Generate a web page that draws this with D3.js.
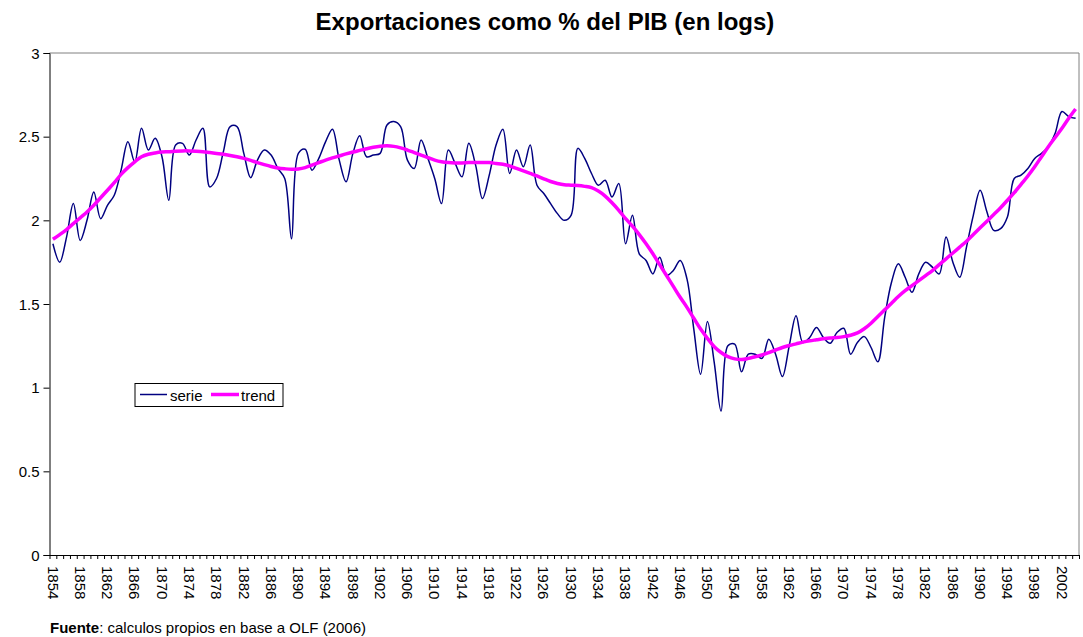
<!DOCTYPE html>
<html>
<head>
<meta charset="utf-8">
<script src="https://cdn.jsdelivr.net/npm/d3@7/dist/d3.min.js"></script>
<style>
  html, body { margin: 0; padding: 0; background: #fff; }
  svg { display: block; font-family: Arial, "Liberation Sans", sans-serif; }
</style>
</head>
<body>
<svg id="chart" width="1083" height="637"></svg>
<script>
// one value per year, 1854..2004
const firstYear = 1854;
const serie = [
  1.86, 1.75, 1.90, 2.10, 1.88, 2.00, 2.17, 2.01, 2.09, 2.15,   // 1854-1863
  2.30, 2.47, 2.35, 2.55, 2.42, 2.49, 2.38, 2.12, 2.45, 2.46,   // 1864-1873
  2.39, 2.48, 2.55, 2.20, 2.25, 2.41, 2.56, 2.56, 2.40, 2.255,  // 1874-1883
  2.36, 2.42, 2.39, 2.31, 2.25, 1.89, 2.40, 2.425, 2.30, 2.37,  // 1884-1893
  2.47, 2.545, 2.36, 2.23, 2.40, 2.505, 2.38, 2.39, 2.40, 2.57, // 1894-1903
  2.59, 2.56, 2.36, 2.31, 2.48, 2.37, 2.25, 2.10, 2.42, 2.34,   // 1904-1913
  2.26, 2.46, 2.33, 2.13, 2.27, 2.45, 2.545, 2.28, 2.42, 2.32,  // 1914-1923
  2.45, 2.21, 2.16, 2.10, 2.04, 2.00, 2.03, 2.43, 2.37, 2.28,   // 1924-1933
  2.21, 2.24, 2.14, 2.22, 1.86, 2.03, 1.80, 1.76, 1.68, 1.78,   // 1934-1943
  1.67, 1.70, 1.76, 1.65, 1.35, 1.08, 1.395, 1.15, 0.86, 1.25,  // 1944-1953
  1.26, 1.095, 1.20, 1.20, 1.175, 1.29, 1.20, 1.066, 1.25, 1.43, // 1954-1963
  1.27, 1.30, 1.36, 1.30, 1.265, 1.33, 1.355, 1.20, 1.27, 1.305, // 1964-1973
  1.24, 1.155, 1.42, 1.63, 1.74, 1.66, 1.57, 1.68, 1.75, 1.72,  // 1974-1983
  1.68, 1.90, 1.75, 1.66, 1.84, 2.03, 2.18, 2.05, 1.94, 1.95,   // 1984-1993
  2.02, 2.25, 2.27, 2.31, 2.37, 2.40, 2.44, 2.52, 2.65, 2.62,   // 1994-2003
  2.61                                                          // 2004
];
const trend = [
  1.887, 1.915, 1.945, 1.98, 2.015, 2.05, 2.09, 2.135, 2.18, 2.225,
  2.275, 2.315, 2.35, 2.38, 2.395, 2.403, 2.408, 2.41, 2.413, 2.415,
  2.415, 2.413, 2.41, 2.405, 2.40, 2.395, 2.388, 2.38, 2.37, 2.358,
  2.345, 2.333, 2.322, 2.313, 2.308, 2.305, 2.307, 2.315, 2.33, 2.345,
  2.36, 2.373, 2.385, 2.397, 2.408, 2.418, 2.428, 2.437, 2.443, 2.445,
  2.442, 2.433, 2.42, 2.405, 2.39, 2.375, 2.36, 2.35, 2.345, 2.343,
  2.343, 2.345, 2.346, 2.346, 2.345, 2.34, 2.335, 2.325, 2.31, 2.295,
  2.28, 2.265, 2.248, 2.232, 2.22, 2.212, 2.21, 2.208, 2.203, 2.195,
  2.175, 2.145, 2.105, 2.06, 2.01, 1.965, 1.915, 1.86, 1.80, 1.735,
  1.67, 1.605, 1.54, 1.48, 1.415, 1.35, 1.295, 1.245, 1.21, 1.185,
  1.172, 1.168, 1.175, 1.185, 1.195, 1.21, 1.225, 1.24, 1.252, 1.262,
  1.272, 1.28, 1.286, 1.292, 1.297, 1.30, 1.305, 1.313, 1.327, 1.352,
  1.385, 1.425, 1.465, 1.505, 1.545, 1.58, 1.61, 1.64, 1.67, 1.70,
  1.735, 1.77, 1.805, 1.84, 1.875, 1.915, 1.955, 1.995, 2.035, 2.075,
  2.12, 2.165, 2.215, 2.265, 2.32, 2.38, 2.44, 2.495, 2.55, 2.61,
  2.665
];
const years = serie.map((d, i) => firstYear + i);
const lastYear = years[years.length - 1];
const yTicks = [0, 0.5, 1, 1.5, 2, 2.5, 3];
const labelYears = years.filter(y => (y - firstYear) % 4 === 0);

const plot = { left: 49.5, top: 53, right: 1079, bottom: 555 };
const svg = d3.select('#chart');

// categories sit between tick marks: boundaries at whole years, points at year + 0.5
const x = d3.scaleLinear().domain([firstYear, lastYear + 1]).range([plot.left, plot.right]);
const y = d3.scaleLinear().domain([0, 3]).range([plot.bottom, plot.top]);

// title
svg.append('text')
  .attr('x', 545).attr('y', 30)
  .attr('text-anchor', 'middle')
  .style('font-size', '24px').style('font-weight', 'bold')
  .text('Exportaciones como % del PIB (en logs)');

// plot frame (top + right in grey)
svg.append('path')
  .attr('d', `M${plot.left},${plot.top}H${plot.right}V${plot.bottom}`)
  .attr('fill', 'none').attr('stroke', '#808080').attr('stroke-width', 1);

// y axis
const yAxis = svg.append('g')
  .attr('transform', `translate(${plot.left},0)`)
  .call(d3.axisLeft(y).tickValues(yTicks).tickSize(6).tickPadding(4).tickFormat(d3.format('')));
yAxis.select('.domain').attr('stroke', '#000');
yAxis.selectAll('text').style('font-size', '15px').attr('fill', '#000').attr('dy', '0.35em');

// x axis: tick at each category boundary, labels every 4 years
const xAxis = svg.append('g')
  .attr('transform', `translate(0,${plot.bottom})`)
  .call(d3.axisBottom(x).tickValues(d3.range(firstYear, lastYear + 2)).tickSize(4).tickFormat(''));
xAxis.select('.domain').attr('d', `M${plot.left},0.5H${plot.right}`).attr('stroke', '#000');

svg.append('g')
  .selectAll('text')
  .data(labelYears)
  .join('text')
  .attr('transform', d => `translate(${x(d + 0.5) - 5.3},${plot.bottom + 11}) rotate(90)`)
  .style('font-size', '15px')
  .text(d => d);

// lines
const line = d3.line()
  .x((d, i) => x(years[i] + 0.5))
  .y(d => y(d))
  .curve(d3.curveCatmullRom.alpha(0.5));

svg.append('path')
  .datum(serie)
  .attr('d', line)
  .attr('fill', 'none').attr('stroke', '#000080').attr('stroke-width', 1.5);

svg.append('path')
  .datum(trend)
  .attr('d', line)
  .attr('fill', 'none').attr('stroke', '#ff00ff').attr('stroke-width', 3.5);

// legend
const legend = svg.append('g').attr('transform', 'translate(135,383.5)');
legend.append('rect')
  .attr('width', 148).attr('height', 23)
  .attr('fill', '#fff').attr('stroke', '#000');
legend.append('line')
  .attr('x1', 5).attr('x2', 32).attr('y1', 11).attr('y2', 11)
  .attr('stroke', '#000080').attr('stroke-width', 1.5);
legend.append('text').attr('x', 35).attr('y', 17).style('font-size', '15px').text('serie');
legend.append('line')
  .attr('x1', 76).attr('x2', 104).attr('y1', 11).attr('y2', 11)
  .attr('stroke', '#ff00ff').attr('stroke-width', 3.5);
legend.append('text').attr('x', 106).attr('y', 17).style('font-size', '15px').text('trend');

// source note
const note = svg.append('text').attr('x', 50).attr('y', 633).style('font-size', '15px');
note.append('tspan').style('font-weight', 'bold').text('Fuente');
note.append('tspan').text(': calculos propios en base a OLF (2006)');
</script>
</body>
</html>
